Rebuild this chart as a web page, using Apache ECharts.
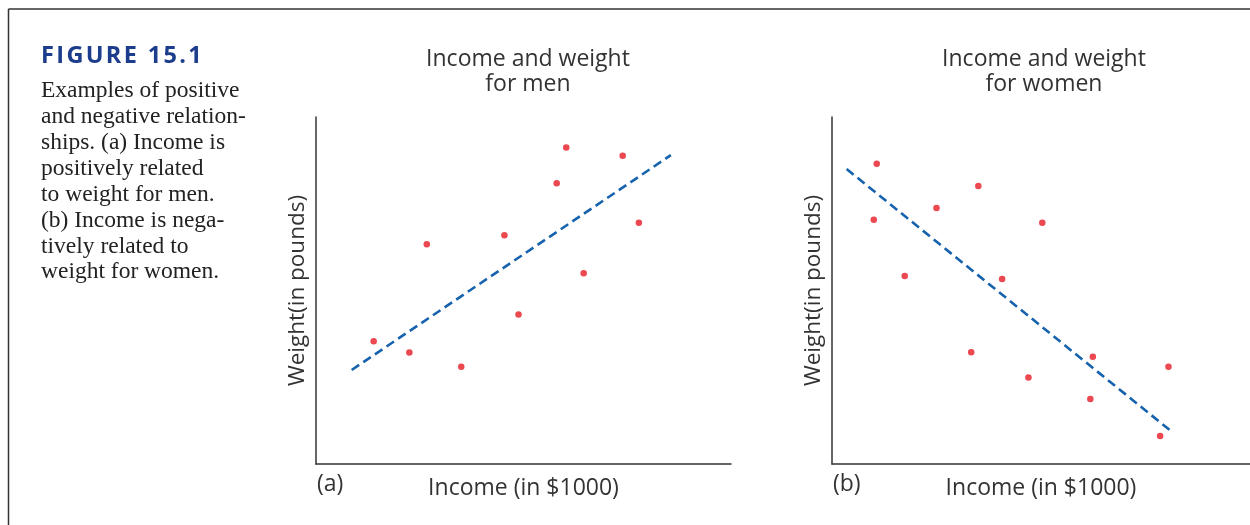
<!DOCTYPE html>
<html>
<head>
<meta charset="utf-8">
<script src="https://cdn.jsdelivr.net/npm/echarts@6/dist/echarts.min.js"></script>
<style>
html,body{margin:0;padding:0;background:#fff;}
#main{width:1250px;height:525px;}
</style>
</head>
<body>
<div id="main"></div>
<script>
// Panel (a): income vs weight for men (arbitrary 0-100 units)
const menIncome = [13.9, 22.5, 26.7, 35.0, 45.4, 48.8, 58.0, 60.3, 64.5, 73.9, 77.8];
const menWeight = [35.4, 32.1, 63.3, 28.0, 65.9, 43.1, 80.9, 91.2, 55.0, 88.8, 69.5];
const menTrendX = [8.6, 85.5];
const menTrendY = [27.1, 89.0];

// Panel (b): income vs weight for women
const womenIncome = [10.7, 10.0, 17.4, 25.0, 35.0, 33.3, 40.7, 50.3, 47.0, 62.4, 61.8, 80.5, 78.5];
const womenWeight = [86.5, 70.4, 54.2, 73.8, 80.1, 32.2, 53.3, 69.5, 24.9, 30.9, 18.7, 28.0, 8.1];
const womenTrendX = [3.5, 81.3];
const womenTrendY = [85.0, 9.3];

const titles = ['Income and weight\nfor men', 'Income and weight\nfor women'];
const panelLabels = ['(a)', '(b)'];
const xName = 'Income (in $1000)';
const yName = 'Weight(in pounds)';
const figureTitle = 'FIGURE 15.1';
const captionLines = [
  'Examples of positive',
  'and negative relation-',
  'ships. (a) Income is',
  'positively related',
  'to weight for men.',
  '(b) Income is nega-',
  'tively related to',
  'weight for women.'
];

const zip = (a, b) => a.map((v, i) => [v, b[i]]);

const sansFont = '"Open Sans", sans-serif';
const axisColor = '#333';
const textColor = '#333';

function makeX(idx) {
  return {
    type: 'value', gridIndex: idx, min: 0, max: 100,
    axisLine: { show: true, lineStyle: { color: axisColor, width: 1.5 } },
    axisTick: { show: false }, axisLabel: { show: false }, splitLine: { show: false },
    name: xName, nameLocation: 'middle', nameGap: 13,
    nameTextStyle: { fontFamily: sansFont, fontSize: 23, color: textColor }
  };
}
function makeY(idx) {
  return {
    type: 'value', gridIndex: idx, min: 0, max: 100,
    axisLine: { show: true, onZero: false, lineStyle: { color: axisColor, width: 1.5 } },
    axisTick: { show: false }, axisLabel: { show: false }, splitLine: { show: false },
    name: yName, nameLocation: 'middle', nameGap: 7, nameRotate: 90,
    nameTextStyle: { fontFamily: sansFont, fontSize: 22.5, color: textColor }
  };
}

const dotStyle = { color: '#e61a24' };
const lineStyle = { color: '#1662ad', width: 2.6, type: [9, 5] };

const graphics = [
  { type: 'line', shape: { x1: 8.5, y1: 9, x2: 1250, y2: 9 }, style: { stroke: '#333', lineWidth: 1.5 } },
  { type: 'line', shape: { x1: 8.5, y1: 9, x2: 8.5, y2: 525 }, style: { stroke: '#333', lineWidth: 1.5 } },
  { type: 'text', left: 41, top: 44, style: { text: figureTitle.split('').join('\u200A'), font: 'bold 23.5px "Open Sans", sans-serif', fill: '#1c3c8c' } },
  { type: 'text', left: 317, top: 473, style: { text: panelLabels[0], font: '23px "Open Sans", sans-serif', fill: textColor } },
  { type: 'text', left: 833, top: 473, style: { text: panelLabels[1], font: '23px "Open Sans", sans-serif', fill: textColor } }
];
captionLines.forEach((t, i) => {
  graphics.push({ type: 'text', left: 41, top: 79 + i * 25.9, style: { text: t, font: '23.5px "Liberation Serif", serif', fill: '#222' } });
});

const chart = echarts.init(document.getElementById('main'));
chart.setOption({
  backgroundColor: '#fff',
  animation: false,
  title: [
    { text: titles[0], left: 523, top: 41.5, textAlign: 'center',
      textStyle: { fontFamily: sansFont, fontSize: 23, fontWeight: 'normal', color: textColor, lineHeight: 25.5 } },
    { text: titles[1], left: 1039, top: 41.5, textAlign: 'center',
      textStyle: { fontFamily: sansFont, fontSize: 23, fontWeight: 'normal', color: textColor, lineHeight: 25.5 } }
  ],
  grid: [
    { left: 316, top: 117, width: 415, height: 347 },
    { left: 832, top: 117, width: 418, height: 347 }
  ],
  xAxis: [makeX(0), makeX(1)],
  yAxis: [makeY(0), makeY(1)],
  series: [
    { type: 'scatter', xAxisIndex: 0, yAxisIndex: 0, data: zip(menIncome, menWeight), symbolSize: 6.5, itemStyle: dotStyle },
    { type: 'line', xAxisIndex: 0, yAxisIndex: 0, data: zip(menTrendX, menTrendY), showSymbol: false, symbol: 'none', lineStyle: lineStyle },
    { type: 'scatter', xAxisIndex: 1, yAxisIndex: 1, data: zip(womenIncome, womenWeight), symbolSize: 6.5, itemStyle: dotStyle },
    { type: 'line', xAxisIndex: 1, yAxisIndex: 1, data: zip(womenTrendX, womenTrendY), showSymbol: false, symbol: 'none', lineStyle: lineStyle }
  ],
  graphic: graphics
});
</script>
</body>
</html>
